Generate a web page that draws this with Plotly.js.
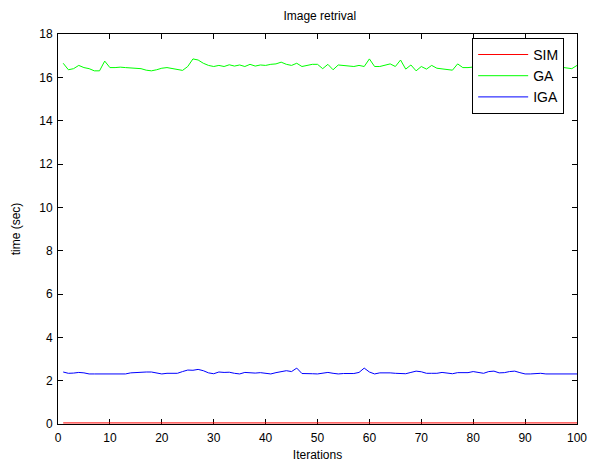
<!DOCTYPE html>
<html>
<head>
<meta charset="utf-8">
<script src="https://cdn.plot.ly/plotly-3.0.1.min.js"></script>
<style>html,body{margin:0;padding:0;background:#fff;}#chart{width:590px;height:464px;}</style>
</head>
<body>
<div id="chart"></div>
<script>
const titleText = "Image retrival";
const xLabel = "Iterations";
const yLabel = "time (sec)";
const seriesNames = ["SIM", "GA", "IGA"];
const xTicks = [0,10,20,30,40,50,60,70,80,90,100];
const yTicks = [0,2,4,6,8,10,12,14,16,18];

const iterations = [];
for (let i = 1; i <= 100; i++) iterations.push(i);

const simTime = [
0.05,0.05,0.05,0.05,0.05,0.05,0.05,0.05,0.05,0.05,
0.05,0.05,0.05,0.05,0.05,0.05,0.05,0.05,0.05,0.05,
0.05,0.05,0.05,0.05,0.05,0.05,0.05,0.05,0.05,0.05,
0.05,0.05,0.05,0.05,0.05,0.05,0.05,0.05,0.05,0.05,
0.05,0.05,0.05,0.05,0.05,0.05,0.05,0.05,0.05,0.05,
0.05,0.05,0.05,0.05,0.05,0.05,0.05,0.05,0.05,0.05,
0.05,0.05,0.05,0.05,0.05,0.05,0.05,0.05,0.05,0.05,
0.05,0.05,0.05,0.05,0.05,0.05,0.05,0.05,0.05,0.05,
0.05,0.05,0.05,0.05,0.05,0.05,0.05,0.05,0.05,0.05,
0.05,0.05,0.05,0.05,0.05,0.05,0.05,0.05,0.05,0.05
];

const gaTime = [
16.65,16.35,16.40,16.55,16.45,16.40,16.30,16.30,16.75,16.45,
16.45,16.47,16.45,16.43,16.42,16.40,16.33,16.30,16.35,16.42,
16.45,16.40,16.35,16.32,16.50,16.85,16.80,16.65,16.55,16.50,
16.55,16.50,16.58,16.52,16.57,16.50,16.60,16.52,16.57,16.55,
16.60,16.62,16.70,16.60,16.55,16.65,16.50,16.55,16.60,16.60,
16.40,16.60,16.35,16.57,16.55,16.52,16.50,16.55,16.50,16.85,
16.50,16.50,16.57,16.62,16.50,16.80,16.38,16.57,16.30,16.50,
16.38,16.55,16.42,16.38,16.36,16.33,16.62,16.45,16.45,16.48,
16.50,16.45,16.52,16.47,16.50,16.45,16.48,16.52,16.46,16.50,
16.47,16.45,16.50,16.48,16.45,16.50,16.47,16.45,16.40,16.55
];

const igaTime = [
2.40,2.34,2.35,2.38,2.36,2.31,2.31,2.31,2.31,2.31,
2.31,2.31,2.31,2.36,2.38,2.37,2.40,2.40,2.36,2.31,
2.34,2.34,2.34,2.42,2.49,2.48,2.52,2.46,2.36,2.32,
2.40,2.38,2.39,2.34,2.31,2.38,2.36,2.35,2.37,2.34,
2.31,2.37,2.43,2.46,2.42,2.58,2.33,2.34,2.32,2.31,
2.36,2.38,2.34,2.31,2.33,2.32,2.33,2.38,2.58,2.40,
2.31,2.36,2.37,2.36,2.34,2.34,2.32,2.38,2.44,2.41,
2.34,2.34,2.34,2.38,2.35,2.32,2.37,2.38,2.37,2.42,
2.38,2.34,2.42,2.44,2.36,2.37,2.42,2.44,2.37,2.31,
2.31,2.32,2.34,2.31,2.31,2.31,2.31,2.31,2.31,2.31
];

const colors = ["#ff0000", "#00ff00", "#0000ff"];
const ys = [simTime, gaTime, igaTime];

const traces = seriesNames.map((n, i) => ({
  x: iterations, y: ys[i], name: n, type: "scatter", mode: "lines",
  line: {color: colors[i], width: 1}
}));

const fontFam = "Liberation Sans, Arial, sans-serif";
const axisCommon = {
  showgrid: false, zeroline: false, showline: true, linecolor: "#000", linewidth: 1,
  mirror: "ticks", ticks: "inside", ticklen: 5, tickcolor: "#000", tickwidth: 1,
  layer: "below traces",
  tickfont: {family: fontFam, size: 12, color: "#000"}
};

const layout = {
  width: 590, height: 464,
  paper_bgcolor: "#fff", plot_bgcolor: "#fff",
  margin: {l: 58, r: 13, t: 34, b: 40},
  title: {text: titleText, font: {family: fontFam, size: 12, color: "#000"}, x: 0.542, xanchor: "center", y: 0.965, yanchor: "middle"},
  xaxis: Object.assign({}, axisCommon, {range: [0, 100], tickvals: xTicks, ticklabelstandoff: 3,
    title: {text: xLabel, standoff: 6, font: {family: fontFam, size: 12, color: "#000"}}}),
  yaxis: Object.assign({}, axisCommon, {range: [0, 18], tickvals: yTicks, ticklabelstandoff: 2,
    title: {text: yLabel, standoff: 16, font: {family: fontFam, size: 12, color: "#000"}}}),
  legend: {x: 0.798, y: 0.99, xanchor: "left", yanchor: "top", bgcolor: "#fff",
    bordercolor: "#000", borderwidth: 1, itemwidth: 50,
    font: {family: fontFam, size: 14, color: "#000"}},
  showlegend: true
};

Plotly.newPlot("chart", traces, layout, {staticPlot: true, displayModeBar: false});
</script>
</body>
</html>
